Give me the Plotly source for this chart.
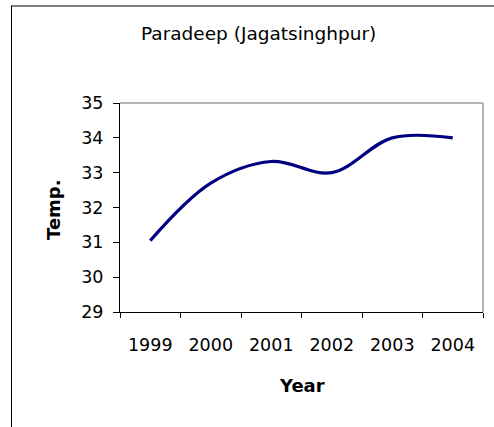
import plotly.graph_objects as go

years = ["1999", "2000", "2001", "2002", "2003", "2004"]
temps = [31.05, 32.7, 33.32, 33.0, 34.0, 34.0]
y_ticks = [29, 30, 31, 32, 33, 34, 35]

FONT = "DejaVu Sans"
W, H = 494, 427
L, R, T, B = 120, 11, 103, 115
pw, ph = W - L - R, H - T - B

def px(x):
    return (x - L) / pw

def py(y):
    return (H - B - y) / ph

fig = go.Figure()
fig.add_trace(go.Scatter(
    x=years, y=temps, mode="lines",
    line=dict(color="#000080", width=3.2, shape="spline", smoothing=1.0),
    showlegend=False, hoverinfo="skip",
))

fig.update_layout(
    width=W, height=H,
    margin=dict(l=L, r=R, t=T, b=B),
    paper_bgcolor="white", plot_bgcolor="white",
    font=dict(family=FONT, size=17.5, color="black"),
    xaxis=dict(
        type="category", range=[-0.5, 5.5],
        showline=True, linecolor="black", linewidth=1,
        ticks="outside", tickson="boundaries", ticklen=5, tickcolor="black",
        showgrid=False, zeroline=False,
        tickfont=dict(family=FONT, size=17.5, color="black"),
        ticklabelstandoff=17,
    ),
    yaxis=dict(
        range=[29, 35], tickvals=y_ticks,
        showline=True, linecolor="black", linewidth=1,
        ticks="outside", ticklen=6, tickcolor="black",
        showgrid=False, zeroline=False,
        tickfont=dict(family=FONT, size=17.5, color="black"),
        ticklabelstandoff=6,
    ),
    shapes=[
        dict(type="line", xref="paper", yref="paper", x0=0, x1=1, y0=1, y1=1,
             line=dict(color="#9a9a9a", width=1.5)),
        dict(type="line", xref="paper", yref="paper", x0=1, x1=1, y0=0, y1=1,
             line=dict(color="#9a9a9a", width=1.5)),
        dict(type="line", xref="paper", yref="paper", x0=px(11.5), x1=px(11.5),
             y0=py(427), y1=py(5.5), line=dict(color="black", width=1)),
        dict(type="line", xref="paper", yref="paper", x0=px(11.5), x1=px(494),
             y0=py(6), y1=py(6), line=dict(color="black", width=1.2)),
    ],
    annotations=[
        dict(text="Paradeep (Jagatsinghpur)", xref="paper", yref="paper",
             x=px(258), y=py(33), xanchor="center", yanchor="middle",
             showarrow=False, font=dict(family=FONT, size=18.5, color="black")),
        dict(text="<b>Year</b>", xref="paper", yref="paper",
             x=px(302), y=py(385), xanchor="center", yanchor="middle",
             showarrow=False, font=dict(family=FONT, size=18, color="black")),
        dict(text="<b>Temp.</b>", xref="paper", yref="paper",
             x=px(53), y=py(210), xanchor="center", yanchor="middle",
             textangle=-90,
             showarrow=False, font=dict(family=FONT, size=18, color="black")),
    ],
)

fig.write_html(
    "out.html",
    config={"displayModeBar": False},
    post_script="document.body.style.margin='0';document.body.style.overflow='hidden';",
)
